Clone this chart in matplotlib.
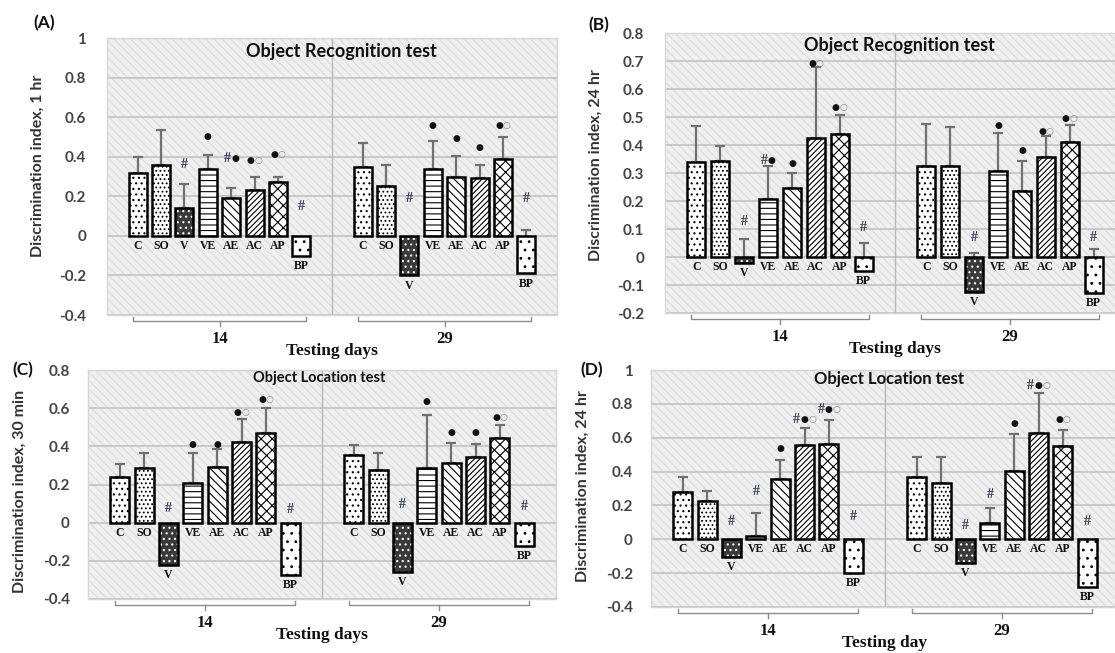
import numpy as np
import matplotlib.pyplot as plt
from matplotlib.patches import Rectangle

plt.rcParams['hatch.linewidth'] = 0.8

groups = ['C', 'SO', 'V', 'VE', 'AE', 'AC', 'AP', 'BP']
days = ['14', '29']

# (A) object recognition, 1 hr  -- rows: day 14, day 29
a_mean = [[0.32, 0.36, 0.14, 0.34, 0.19, 0.23, 0.27, -0.10],
          [0.35, 0.25, -0.20, 0.34, 0.30, 0.29, 0.39, -0.19]]
a_err = [[0.08, 0.175, 0.12, 0.07, 0.05, 0.07, 0.03, 0.0],
         [0.12, 0.11, 0.0, 0.14, 0.105, 0.07, 0.11, 0.22]]
a_sig = [['', '', '#', '●', '#●', '●○', '●○', '#'],
         ['', '', '#', '●', '●', '●', '●○', '#']]
a_sig_y = [[0, 0, 0.36, 0.50, 0.39, 0.38, 0.41, 0.15],
           [0, 0, 0.19, 0.56, 0.49, 0.445, 0.56, 0.19]]

# (B) object recognition, 24 hr
b_mean = [[0.338, 0.344, -0.02, 0.207, 0.245, 0.426, 0.438, -0.05],
          [0.325, 0.325, -0.126, 0.308, 0.236, 0.358, 0.412, -0.127]]
b_err = [[0.131, 0.052, 0.084, 0.118, 0.056, 0.254, 0.069, 0.10],
         [0.15, 0.14, 0.141, 0.136, 0.108, 0.074, 0.059, 0.155]]
b_sig = [['', '', '#', '#●', '●', '●○', '●○', '#'],
         ['', '', '#', '●', '●', '●○', '●○', '#']]
b_sig_y = [[0, 0, 0.126, 0.346, 0.335, 0.69, 0.535, 0.107],
           [0, 0, 0.068, 0.468, 0.38, 0.45, 0.496, 0.068]]

# (C) object location, 30 min
c_mean = [[0.238, 0.285, -0.222, 0.206, 0.293, 0.421, 0.468, -0.274],
          [0.355, 0.276, -0.26, 0.285, 0.315, 0.346, 0.446, -0.12]]
c_err = [[0.068, 0.082, 0.0, 0.161, 0.092, 0.122, 0.132, 0.0],
         [0.052, 0.091, 0.0, 0.28, 0.104, 0.066, 0.066, 0.0]]
c_sig = [['', '', '#', '●', '●', '●○', '●○', '#'],
         ['', '', '#', '●', '●', '●', '●○', '#']]
c_sig_y = [[0, 0, 0.075, 0.412, 0.412, 0.577, 0.643, 0.067],
           [0, 0, 0.093, 0.634, 0.472, 0.472, 0.552, 0.084]]

# (D) object location, 24 hr
d_mean = [[0.278, 0.226, -0.106, 0.02, 0.356, 0.557, 0.563, -0.20],
          [0.366, 0.331, -0.142, 0.098, 0.405, 0.626, 0.551, -0.28]]
d_err = [[0.088, 0.059, 0.0, 0.137, 0.112, 0.099, 0.142, 0.0],
         [0.122, 0.157, 0.0, 0.085, 0.217, 0.24, 0.095, 0.0]]
d_sig = [['', '', '#', '#', '●', '#●○', '#●○', '#'],
         ['', '', '#', '#', '●', '#●○', '●○', '#']]
d_sig_y = [[0, 0, 0.104, 0.285, 0.537, 0.71, 0.764, 0.133],
           [0, 0, 0.079, 0.262, 0.685, 0.911, 0.709, 0.108]]

# bar fill styles: (face colour, hatch colour, hatch)
styles = {
    'C': ('white', 'black', '...'),
    'SO': ('white', 'black', '....'),
    'V': ('#3a3a3a', 'white', '...'),
    'VE': ('white', 'black', '---'),
    'AE': ('white', 'black', '\\\\\\\\'),
    'AC': ('white', 'black', '//////'),
    'AP': ('white', 'black', 'xxx'),
    'BP': ('white', 'black', '..'),
}

W, H = 1115, 653
fig = plt.figure(figsize=(W / 100, H / 100), dpi=100)

SANS = 'Lato'
SERIF = 'Liberation Serif'
sig_colors = {'#': '#2e3a55', '●': '#111111', '○': '#8a8a8a'}


def draw_panel(px, ylim, step, mean, err, sig, sig_y, title, tsize, tpos,
               ylabel, ypos, xlabel, letter, lpos, tick_pad):
    x0, y0, x1, y1 = px
    ax = fig.add_axes([x0 / W, 1 - y1 / H, (x1 - x0) / W, (y1 - y0) / H])
    ax.set_facecolor('#efefef')
    ax.add_patch(Rectangle((0, 0), 1, 1, transform=ax.transAxes,
                           facecolor='none', edgecolor='#dddddd',
                           hatch='\\\\\\\\', lw=0, zorder=0))
    ax.set_xlim(0, 2)
    ax.set_ylim(*ylim)
    ticks = np.round(np.arange(ylim[0], ylim[1] + step / 2, step), 2)
    ax.set_yticks(ticks)
    ax.set_yticklabels([f'{t:g}' for t in ticks], fontfamily=SANS,
                       fontweight='bold', fontsize=11, color='#444444')
    ax.tick_params(axis='y', length=0, pad=tick_pad)
    ax.set_xticks([])
    ax.grid(axis='y', color='#c8c8c8', lw=1.4, zorder=1)
    ax.set_axisbelow(True)
    for s in ax.spines.values():
        s.set_color('#d6d6d6')
        s.set_linewidth(1.0)
    ax.axvline(1, color='#b8b8b8', lw=1.0, zorder=1)

    hpx = y1 - y0
    width = 0.08
    spacing = 0.104
    for g in range(2):
        xs = g + 0.5 + (np.arange(len(groups)) - 3.5) * spacing
        vals = np.array(mean[g])
        errs = np.array(err[g])
        ax.errorbar(xs, vals, yerr=[np.zeros_like(errs), errs], fmt='none',
                    ecolor='#707070', elinewidth=1.6, capsize=3.5,
                    capthick=1.6, zorder=2)
        for i, name in enumerate(groups):
            face, hcol, hatch = styles[name]
            ax.bar(xs[i], vals[i], width, color=face, edgecolor=hcol,
                   hatch=hatch, lw=0, zorder=3)
            ax.bar(xs[i], vals[i], width, fill=False, edgecolor='black',
                   lw=1.8, zorder=4)
            base = min(vals[i], 0)
            ax.annotate(name, (xs[i], base), xytext=(0, -3),
                        textcoords='offset points', ha='center', va='top',
                        fontfamily=SERIF, fontweight='bold', fontsize=8.5,
                        color='#111111', zorder=5)
            marks = sig[g][i]
            for k, ch in enumerate(marks):
                dx = (k - (len(marks) - 1) / 2) * 5.6
                if ch == '#':
                    kw = dict(fontfamily=SERIF, fontweight='bold', fontsize=10)
                else:
                    kw = dict(fontfamily='DejaVu Sans', fontsize=6.5)
                ax.annotate(ch, (xs[i], sig_y[g][i]), xytext=(dx, 0),
                            textcoords='offset points', ha='center',
                            va='center', color=sig_colors[ch], zorder=5, **kw)

        # brace under each testing day
        gc = g + 0.5
        yb = -6 / hpx
        tr = ax.get_xaxis_transform()
        half = 0.385
        ax.plot([gc - half, gc - half, gc + half, gc + half],
                [yb + 4 / hpx, yb, yb, yb + 4 / hpx], color='#8c8c8c',
                lw=1.0, transform=tr, clip_on=False)
        ax.plot([gc, gc], [yb, yb - 5 / hpx], color='#8c8c8c', lw=1.0,
                transform=tr, clip_on=False)
        ax.text(gc, yb - 18 / hpx, days[g], transform=tr, ha='center',
                va='center', fontfamily=SERIF, fontweight='bold',
                fontsize=12, color='#111111')

    ax.text(1.0, -36 / hpx, xlabel, transform=ax.get_xaxis_transform(),
            ha='center', va='center', fontfamily=SERIF, fontweight='bold',
            fontsize=12.5, color='#111111')
    ax.text(tpos[0], tpos[1], title, transform=ax.transAxes, ha='center',
            va='center', fontfamily=SANS, fontweight='bold', fontsize=tsize,
            color='#111111', zorder=6)
    ax.set_ylabel(ylabel, fontfamily=SANS, fontweight='bold', fontsize=11.5,
                  color='#333333')
    ax.yaxis.set_label_coords(ypos[0], ypos[1])
    fig.text(lpos[0] / W, 1 - lpos[1] / H, letter, ha='left', va='center',
             fontfamily=SANS, fontweight='bold', fontsize=12.5, color='#111111')
    return ax


draw_panel((107, 38, 557, 315), (-0.4, 1.0), 0.2, a_mean, a_err, a_sig,
           a_sig_y, 'Object Recognition test', 13, (0.52, 0.95),
           'Discrimination index, 1 hr', (-0.138, 0.54), 'Testing days',
           '(A)', (33, 23), 15)
draw_panel((665, 33, 1125, 313), (-0.2, 0.8), 0.1, b_mean, b_err, b_sig,
           b_sig_y, 'Object Recognition test', 13, (0.509, 0.957),
           'Discrimination index, 24 hr', (-0.136, 0.53), 'Testing days',
           '(B)', (588, 25), 15)
draw_panel((88, 370, 556, 599), (-0.4, 0.8), 0.2, c_mean, c_err, c_sig,
           c_sig_y, 'Object Location test', 10.5, (0.494, 0.965),
           'Discrimination index, 30 min', (-0.13, 0.47), 'Testing days',
           '(C)', (12, 370), 13)
draw_panel((651, 370, 1119, 607), (-0.4, 1.0), 0.2, d_mean, d_err, d_sig,
           d_sig_y, 'Object Location test', 12, (0.509, 0.962),
           'Discrimination index, 24 hr', (-0.13, 0.51), 'Testing day',
           '(D)', (580, 370), 13)

fig.savefig('out.png', dpi=100)
